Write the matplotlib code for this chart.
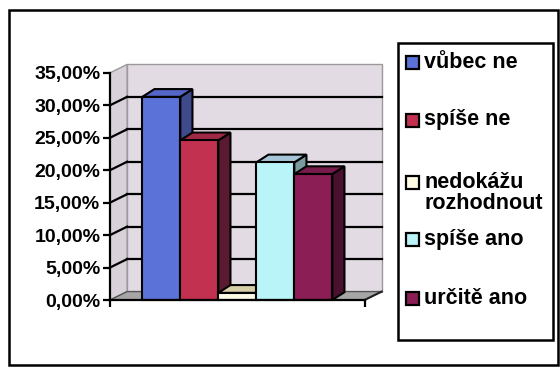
import matplotlib
matplotlib.use("Agg")
import matplotlib.pyplot as plt
from matplotlib.patches import Polygon, Rectangle

# ---- data ----
categories = ["vůbec ne", "spíše ne", "nedokážu\nrozhodnout", "spíše ano", "určitě ano"]
values = [31.3, 24.6, 1.1, 21.2, 19.4]          # percent
yticks = [0, 5, 10, 15, 20, 25, 30, 35]
ytick_labels = ["0,00%", "5,00%", "10,00%", "15,00%", "20,00%", "25,00%", "30,00%", "35,00%"]

# ---- styles ----
front_cols = ["#5B73D8", "#C2314F", "#FFFCE6", "#B8F4F8", "#8A1E55"]
top_cols = ["#5567C6", "#A02A46", "#D8CFA6", "#A6C6D8", "#781A4A"]
side_cols = ["#3E4A8C", "#5A1A30", "#8E8A70", "#7A9AA0", "#4A1030"]

W, H = 560, 367
fig = plt.figure(figsize=(W / 100, H / 100), dpi=100)
plt.rcParams['font.family'] = ['Liberation Sans', 'DejaVu Sans']

# pixel geometry of the plot frame
x0, x1 = -1.35, 5.35          # front axis extent (data units)
wdx, wdy = 0.45, 1.3          # wall depth offset
bdx, bdy = 0.32, 1.2          # bar depth offset
ymax = 35
px_per_x = 38.0
px_per_y = 6.49
left_px, bottom_px = 110, 300
xlim = (x0, x1 + wdx + 0.05)
ylim = (0, ymax + wdy + 0.3)
ax_w = (xlim[1] - xlim[0]) * px_per_x
ax_h = (ylim[1] - ylim[0]) * px_per_y
ax = fig.add_axes([left_px / W, (H - bottom_px) / H, ax_w / W, ax_h / H])
ax.set_xlim(*xlim)
ax.set_ylim(*ylim)
ax.patch.set_alpha(0)

# walls
wall_col = "#E3DBE3"
ax.add_patch(Polygon([(x0 + wdx, wdy), (x1 + wdx, wdy), (x1 + wdx, ymax + wdy), (x0 + wdx, ymax + wdy)],
                     closed=True, facecolor=wall_col, edgecolor="#9A9A9A", lw=1.0, zorder=1, clip_on=False))
ax.add_patch(Polygon([(x0, 0), (x0 + wdx, wdy), (x0 + wdx, ymax + wdy), (x0, ymax)],
                     closed=True, facecolor="#D9D1D9", edgecolor="#9A9A9A", lw=1.0, zorder=1, clip_on=False))
ax.add_patch(Polygon([(x0, 0), (x1, 0), (x1 + wdx, wdy), (x0 + wdx, wdy)],
                     closed=True, facecolor="#A6A6A6", edgecolor="#555555", lw=1.0, zorder=1, clip_on=False))
# gridlines
for v in yticks[1:-1]:
    ax.plot([x0 + wdx, x1 + wdx], [v + wdy, v + wdy], color="black", lw=1.6, zorder=2, clip_on=False)
    ax.plot([x0, x0 + wdx], [v, v + wdy], color="black", lw=1.6, zorder=2, clip_on=False)
# floor right edge
ax.plot([x1, x1 + wdx], [0, wdy], color="#222222", lw=1.5, zorder=2, clip_on=False)

# bars
for i, v in enumerate(values):
    z = 3 + i * 3
    a, b = i - 0.5, i + 0.5
    ax.add_patch(Polygon([(b, 0), (b + bdx, bdy), (b + bdx, v + bdy), (b, v)], closed=True,
                         facecolor=side_cols[i], edgecolor="black", lw=1.5, zorder=z, clip_on=False))
    ax.add_patch(Polygon([(a, v), (b, v), (b + bdx, v + bdy), (a + bdx, v + bdy)], closed=True,
                         facecolor=top_cols[i], edgecolor="black", lw=1.5, zorder=z + 1, clip_on=False,
                         joinstyle="miter"))
    ax.bar(i, v, width=1.0, bottom=0, color=front_cols[i], edgecolor="black", lw=1.5,
           zorder=z + 2, clip_on=False)

# axes
for s in ["top", "right"]:
    ax.spines[s].set_visible(False)
ax.spines["left"].set_bounds(0, ymax)
ax.spines["bottom"].set_bounds(x0, x1)
ax.spines["left"].set_linewidth(1.6)
ax.spines["bottom"].set_linewidth(1.6)
ax.spines["left"].set_zorder(30)
ax.spines["bottom"].set_zorder(30)
ax.set_yticks(yticks)
ax.set_yticklabels(ytick_labels, fontsize=14, fontweight="bold")
ax.set_xticks([x0, x1])
ax.set_xticklabels([])
ax.tick_params(axis="both", direction="out", length=5, width=1.6, color="black", pad=2)

# legend (manual, Excel-like)
lx0, ly0, lx1, ly1 = 398, 43, 553, 340
fig.add_artist(Rectangle((lx0 / W, 1 - ly1 / H), (lx1 - lx0) / W, (ly1 - ly0) / H,
                         transform=fig.transFigure, facecolor="white", edgecolor="black", lw=1.8))
entry_y = [62, 120, 182, 239, 298]
for i, lab in enumerate(categories):
    yc = entry_y[i]
    sq = 13
    fig.add_artist(Rectangle((406 / W, 1 - (yc + sq / 2) / H), sq / W, sq / H, transform=fig.transFigure,
                             facecolor=front_cols[i], edgecolor="black", lw=1.6))
    fig.text(424 / W, 1 - (yc - 10.5) / H, lab, fontsize=15.5, fontweight="bold", va="top", ha="left",
             linespacing=1.02)

# outer frame
fig.add_artist(Rectangle((9 / W, 1 - 365 / H), (558 - 9) / W, (365 - 10) / H, transform=fig.transFigure,
                         facecolor="none", edgecolor="black", lw=1.8))

fig.savefig("out.png", dpi=100)
